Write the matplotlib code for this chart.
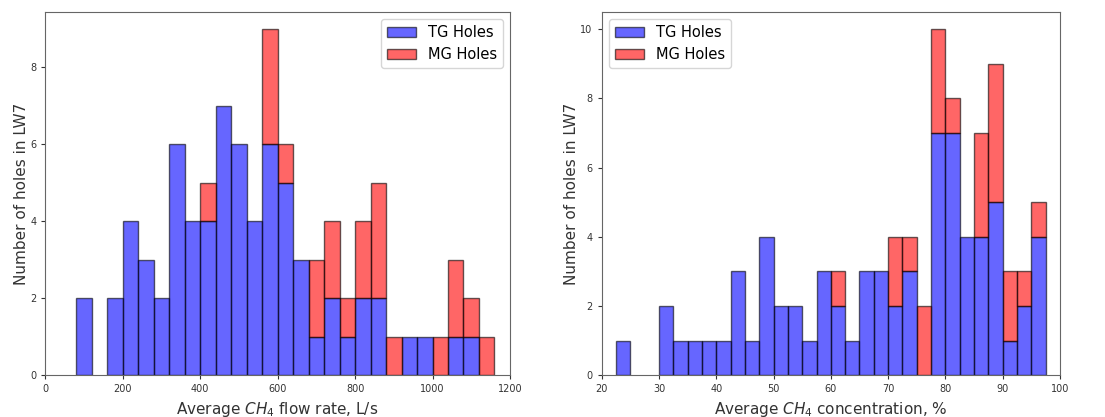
import matplotlib
matplotlib.use("Agg")
import matplotlib.pyplot as plt
from matplotlib.patches import Patch
import numpy as np

# Left panel: average CH4 flow rate (L/s), bins of 40 L/s starting at 80
flow_edges = np.arange(80, 1161, 40)
flow_tg = [2, 0, 2, 4, 3, 2, 6, 4, 4, 7, 6, 4, 6, 5, 3, 1, 2, 1, 2, 2, 0, 1, 1, 0, 1, 1, 0]
flow_mg = [0, 0, 0, 0, 0, 0, 0, 0, 1, 0, 0, 0, 3, 1, 0, 2, 2, 1, 2, 3, 1, 0, 0, 1, 2, 1, 1]

# Right panel: average CH4 concentration (%), bins of 2.5 % starting at 22.5
conc_edges = np.arange(22.5, 97.6, 2.5)
conc_tg = [1, 0, 0, 2, 1, 1, 1, 1, 3, 1, 4, 2, 2, 1, 3, 2, 1, 3, 3, 2, 3, 0, 7, 7, 4, 4, 5, 1, 2, 4]
conc_mg = [0, 0, 0, 0, 0, 0, 0, 0, 0, 0, 0, 0, 0, 0, 0, 1, 0, 0, 0, 2, 1, 2, 3, 1, 0, 3, 4, 2, 1, 1]

labels = ["TG Holes", "MG Holes"]
colors = ["blue", "red"]


def stacked_hist(ax, edges, tg, mg):
    centers = (edges[:-1] + edges[1:]) / 2
    n, bins, patches = ax.hist([centers, centers], bins=edges, weights=[tg, mg],
                               stacked=True, color=colors, edgecolor="k",
                               alpha=0.6)
    # hide empty bins so no outline is drawn on the axis
    for group in patches:
        for p in group:
            if p.get_height() == 0:
                p.set_visible(False)
    for s in ax.spines.values():
        s.set_color("#666666")
    ax.tick_params(labelsize=7, colors="#333333", length=3)


handles = [Patch(facecolor=c, edgecolor="k", alpha=0.6, label=l)
           for c, l in zip(colors, labels)]

fig = plt.figure(figsize=(11.05, 4.17), dpi=100)
ax1 = fig.add_axes([0.041, 0.1, 0.4205, 0.872])
ax2 = fig.add_axes([0.5445, 0.1, 0.4148, 0.872])

stacked_hist(ax1, flow_edges, flow_tg, flow_mg)
ax1.set_xlim(0, 1200)
ax1.set_yticks([0, 2, 4, 6, 8])
ax1.set_xlabel("Average $CH_4$ flow rate, L/s", fontsize=11, color="#333333")
ax1.set_ylabel("Number of holes in LW7", fontsize=11, color="#333333", labelpad=1)
ax1.legend(handles=handles, loc="upper right", fontsize=10.5)

stacked_hist(ax2, conc_edges, conc_tg, conc_mg)
ax2.set_xlim(20, 100)
ax2.set_yticks([0, 2, 4, 6, 8, 10])
ax2.set_xlabel("Average $CH_4$ concentration, %", fontsize=11, color="#333333")
ax2.set_ylabel("Number of holes in LW7", fontsize=11, color="#333333", labelpad=1)
ax2.legend(handles=handles, loc="upper left", fontsize=10.5)

fig.savefig("out.png", dpi=100)
